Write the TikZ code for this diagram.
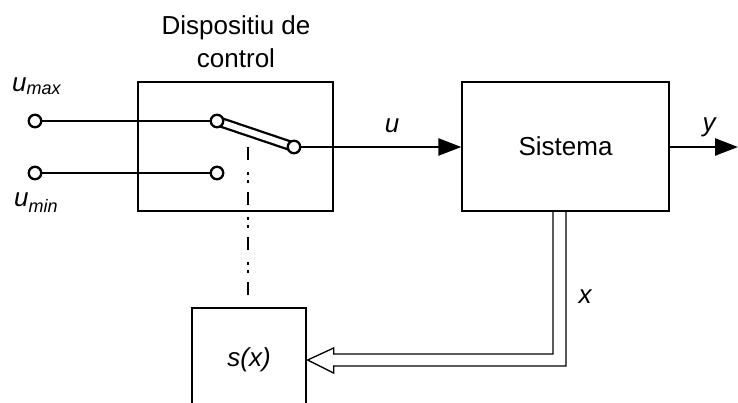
\documentclass[tikz,border=0pt]{standalone}
\usepackage{fontspec}
\setmainfont{Liberation Sans}
\usetikzlibrary{arrows.meta,calc}
\begin{document}
\begin{tikzpicture}[x=1pt,y=-1pt,
  box/.style={draw,line width=1.3pt,inner sep=0pt},
  wire/.style={line width=2.5pt},
  term/.style={circle,draw,line width=2.3pt,fill=white,minimum size=12.5pt,inner sep=0pt},
  lbl/.style={font=\fontsize{26}{33}\selectfont\itshape,inner sep=0pt},
  txt/.style={font=\fontsize{26}{33}\selectfont,inner sep=0pt},
  arr/.style={-{Triangle[length=23pt,width=17pt]}}]
\useasboundingbox (0,0) rectangle (738,403);
\clip (0,0) rectangle (738,403);
% boxes
\node[box,minimum width=195pt,minimum height=129pt] (ctrl) at (235.5,146.5) {};
\node[box,txt,minimum width=207pt,minimum height=129pt] (sys) at (565.5,146.5) {Sistema};
\node[box,lbl,minimum width=114pt,minimum height=104pt] (sx) at (249,360) {s(x)};
\node[txt,align=center,anchor=base] (title) at (236,68) {Dispositiu de\\control};
% switch
\coordinate (pmax) at (35,121);
\coordinate (pmin) at (35,173);
\coordinate (pa) at (217,121);
\coordinate (pb) at (217,173);
\coordinate (pc) at (294,147);
\draw[line width=2.3pt,double distance=6pt] (pa) -- (pc);
\node[term] (tmax) at (pmax) {};
\node[term] (tmin) at (pmin) {};
\node[term] (ca) at (pa) {};
\node[term] (cb) at (pb) {};
\node[term] (cc) at (pc) {};
\draw[wire] (tmax) -- (ca);
\draw[wire] (tmin) -- (cb);
\draw[wire,arr] (cc) -- (cc -| sys.west);
\coordinate (yend) at (738,147);
\draw[wire,arr] (sys.east |- yend) -- (yend);
% dash-dot link
\coordinate (dd0) at (248,147);
\draw[line width=2.6pt,dash pattern=on 13pt off 12pt on 3pt off 5pt on 3pt off 9pt] (dd0) -- (dd0 |- sx.north);
% hollow feedback arrow
\coordinate (tip) at ($(sx.east)+(1,0)$);
\draw[line width=1.3pt,line join=miter]
  (sys.south -| 553,0) -- (553,354) -- ($(tip)+(26,-6)$) -- ($(tip)+(26,-12)$) -- (tip)
  -- ($(tip)+(26,13)$) -- ($(tip)+(26,6)$) -- (566,366) -- (sys.south -| 566,0);
% labels
\node[lbl,anchor=base] (lu) at (392,133) {u};
\node[lbl,anchor=base] (ly) at (709,132) {y};
\node[lbl,anchor=base] (lx) at (585,303) {x};
\node[lbl,anchor=base west] (lmax) at (12,92) {u\raisebox{-3pt}{\fontsize{18}{18}\selectfont max}};
\node[lbl,anchor=base west] (lmin) at (14,207) {u\raisebox{-6pt}{\fontsize{18}{18}\selectfont min}};
\end{tikzpicture}
\end{document}
